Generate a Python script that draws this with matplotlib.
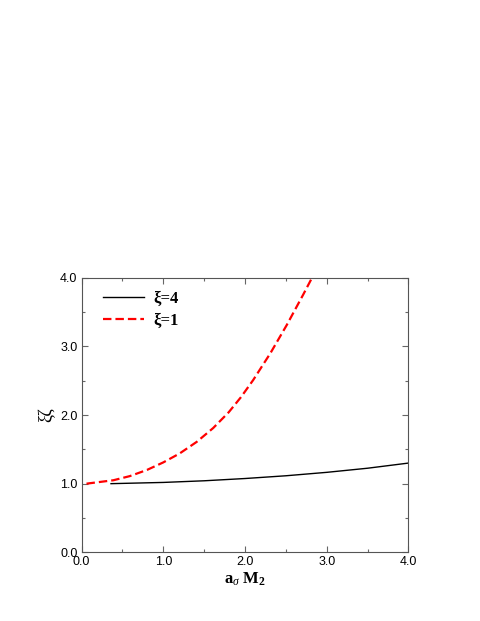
import numpy as np
import matplotlib
matplotlib.use("Agg")
import matplotlib.pyplot as plt
from matplotlib.ticker import MultipleLocator, FormatStrFormatter

# 曲线数据
xi4_x = [0.36, 1.0, 1.5, 2.0, 2.5, 3.0, 3.5, 4.0]
xi4_y = [1.0, 1.018, 1.042, 1.075, 1.115, 1.165, 1.225, 1.30]

xi1_x = [0.06, 0.39, 0.59, 0.80, 1.00, 1.20, 1.41, 1.61, 1.80, 1.95,
         2.10, 2.31, 2.51, 2.71, 2.82]
xi1_y = [1.0, 1.05, 1.11, 1.20, 1.31, 1.44, 1.61, 1.81, 2.04, 2.26,
         2.51, 2.90, 3.31, 3.75, 4.0]

legend_labels = ["\u03be=4", "\u03be=1"]

plt.rcParams['mathtext.fontset'] = 'custom'
plt.rcParams['mathtext.rm'] = 'Liberation Serif:bold'
plt.rcParams['mathtext.bf'] = 'Liberation Serif:bold'
plt.rcParams['mathtext.it'] = 'Liberation Serif:italic'

fig = plt.figure(figsize=(4.8, 6.21), dpi=100)
ax = fig.add_axes([0.170, 0.1106, 0.681, 0.4422])

ax.plot(xi4_x, xi4_y, color='black', linewidth=1.0, label=legend_labels[0])
ax.plot(xi1_x, xi1_y, color='red', linewidth=1.6, dashes=(3.8, 1.8), label=legend_labels[1])

ax.set_xlim(0, 4)
ax.set_ylim(0, 4)
ax.xaxis.set_major_locator(MultipleLocator(1.0))
ax.xaxis.set_minor_locator(MultipleLocator(0.5))
ax.yaxis.set_major_locator(MultipleLocator(1.0))
ax.yaxis.set_minor_locator(MultipleLocator(0.5))
ax.xaxis.set_major_formatter(FormatStrFormatter('%.1f'))
ax.yaxis.set_major_formatter(FormatStrFormatter('%.1f'))

ax.tick_params(which='both', direction='in', top=True, right=True,
               color='#666666', width=0.8)
ax.tick_params(which='major', length=4, labelsize=9, pad=3)
ax.tick_params(which='minor', length=2.5)
for lab in ax.get_xticklabels() + ax.get_yticklabels():
    lab.set_family('Liberation Sans')
for sp in ax.spines.values():
    sp.set_color('#555555')
    sp.set_linewidth(0.8)

ax.set_xlabel(r'$\mathbf{a}_{\sigma}\ \mathbf{M}_{2}$', fontsize=12, labelpad=1)
ax.set_ylabel('\u03be\u03b6', fontsize=13, family='Liberation Serif', labelpad=3)

leg = ax.legend(loc='upper left', frameon=False, handlelength=2.45,
                prop={'family': 'Liberation Serif', 'weight': 'bold', 'size': 12},
                borderaxespad=0.2, labelspacing=0.39, handletextpad=0.55,
                bbox_to_anchor=(0.035, 0.989))

fig.savefig('out.png', dpi=100)
